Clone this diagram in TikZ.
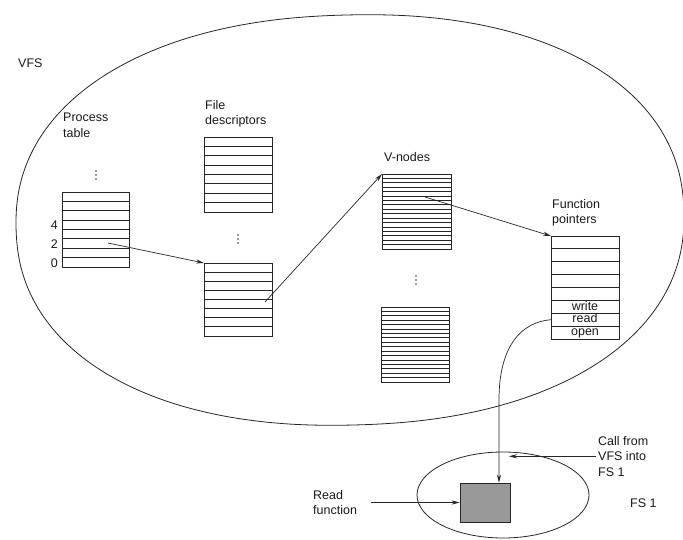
\documentclass[tikz,border=0pt]{standalone}
\usepackage{fontspec}
\setmainfont{Liberation Sans}
\usetikzlibrary{arrows.meta}
\begin{document}
\begin{tikzpicture}[x=1pt,y=-1pt,
  ink/.style={draw=black!85,line width=0.8pt},
  arr/.style={draw=black!85,line width=0.7pt,-{Stealth[length=8pt,width=4.2pt]}},
  lbl/.style={font=\fontsize{12.5}{15.5}\selectfont,align=left,inner sep=0pt,text=black!90},
  cell/.style={lbl,text height=8pt,text depth=1.5pt},
  tbl/.style={draw=black!85,line width=0.8pt,anchor=north west,inner sep=0pt},
  dot/.style={fill=black!80},
]
\useasboundingbox (0,0) rectangle (683,540);

% VFS boundary: a slightly squared, slightly tilted oval
\draw[ink,rotate around={1.5:(350,220)}] plot[smooth cycle,domain=1:359,samples=180]
  ({350+334*(cos(\x)>=0?1:-1)*pow(abs(cos(\x)),0.909)},
   {220-205*(sin(\x)>=0?1:-1)*pow(abs(sin(\x)),0.909)});
\node[lbl,anchor=west] (vfs) at (18,63) {VFS};

% process table (open at the top)
\node[lbl,anchor=north west] (ptl) at (63,113) {Process\\table};
\node[tbl,minimum width=67pt,minimum height=75pt] (pt) at (62,192) {};
\draw[ink] (pt.north west) -- ++(0,10);
\draw[ink] (pt.north east) -- ++(0,10);
\foreach \k in {1,...,7} \draw[ink] (62,{192+\k*9.375}) -- ++(67,0);
\foreach \k in {0,1,2} \fill[dot] (96,{171+\k*4}) circle (0.8);
\node[lbl,anchor=east] (p4) at (58,225) {4};
\node[lbl,anchor=east] (p2) at (58,244) {2};
\node[lbl,anchor=east] (p0) at (58,263) {0};
\coordinate (ptslot) at (108,243);

% file descriptors
\node[lbl,anchor=north west] (fdl) at (205,100) {File\\descriptors};
\node[tbl,minimum width=68pt,minimum height=75pt] (fda) at (204,137) {};
\foreach \k in {1,...,7} \draw[ink] (204,{137+\k*9.375}) -- ++(68,0);
\foreach \k in {0,1,2} \fill[dot] (238,{235+\k*4}) circle (0.8);
\node[tbl,minimum width=68pt,minimum height=73pt] (fdb) at (204,263) {};
\foreach \k in {1,...,7} \draw[ink] (204,{263+\k*9.125}) -- ++(68,0);
\coordinate (fdslot) at (265,302);

% v-nodes
\node[lbl,anchor=south west] (vnl) at (384,162) {V-nodes};
\node[tbl,minimum width=69pt,minimum height=75pt] (vna) at (382,174) {};
\foreach \k in {1,...,16} \draw[ink] (382,{174+\k*75/17}) -- ++(69,0);
\foreach \k in {0,1,2} \fill[dot] (416,{276+\k*4}) circle (0.8);
\node[tbl,minimum width=68pt,minimum height=75pt] (vnb) at (381,307) {};
\foreach \k in {1,...,16} \draw[ink] (381,{307+\k*75/17}) -- ++(68,0);
\coordinate (vnslot) at (425,197);

% function pointers
\node[lbl,anchor=north west] (fpl) at (552,199) {Function\\pointers};
\node[tbl,minimum width=68pt,minimum height=103pt] (fp) at (551,236) {};
\foreach \k in {1,...,7} \draw[ink] (551,{236+\k*12.875}) -- ++(68,0);
\node[cell] (fw) at (585,{236+5.5*12.875}) {write};
\node[cell] (fr) at (585,{236+6.5*12.875}) {read};
\node[cell] (fo) at (585,{236+7.5*12.875}) {open};

% file system FS 1
\draw[ink] (503,495) ellipse (86 and 43);
\node[draw=black!85,line width=0.8pt,fill=black!40,minimum width=50pt,minimum height=39pt,inner sep=0pt] (rdfn) at (485,502.5) {};
\node[lbl,anchor=west] (fs1) at (630,503) {FS 1};
\node[lbl,anchor=north west] (rfl) at (313,490) {Read\\function};
\node[lbl,anchor=north west] (cfl) at (598,436) {Call from\\VFS into\\FS 1};
\coordinate (drop) at (499,400);

% connectors
\draw[arr] (ptslot) -- (fdb.north west);
\draw[arr] (fdslot) -- (vna.north west);
\draw[arr] (vnslot) -- (fp.north west);
\draw[arr] (fp.west |- fr) .. controls (522,322) and (499,345) .. (drop) -- (drop |- rdfn.north);
\draw[arr] ([xshift=-2pt]cfl.west) -- ([xshift=10pt]cfl.west -| drop);
\draw[arr] ([xshift=58pt]rfl.north west |- rdfn.west) -- (rdfn.west);
\end{tikzpicture}
\end{document}
